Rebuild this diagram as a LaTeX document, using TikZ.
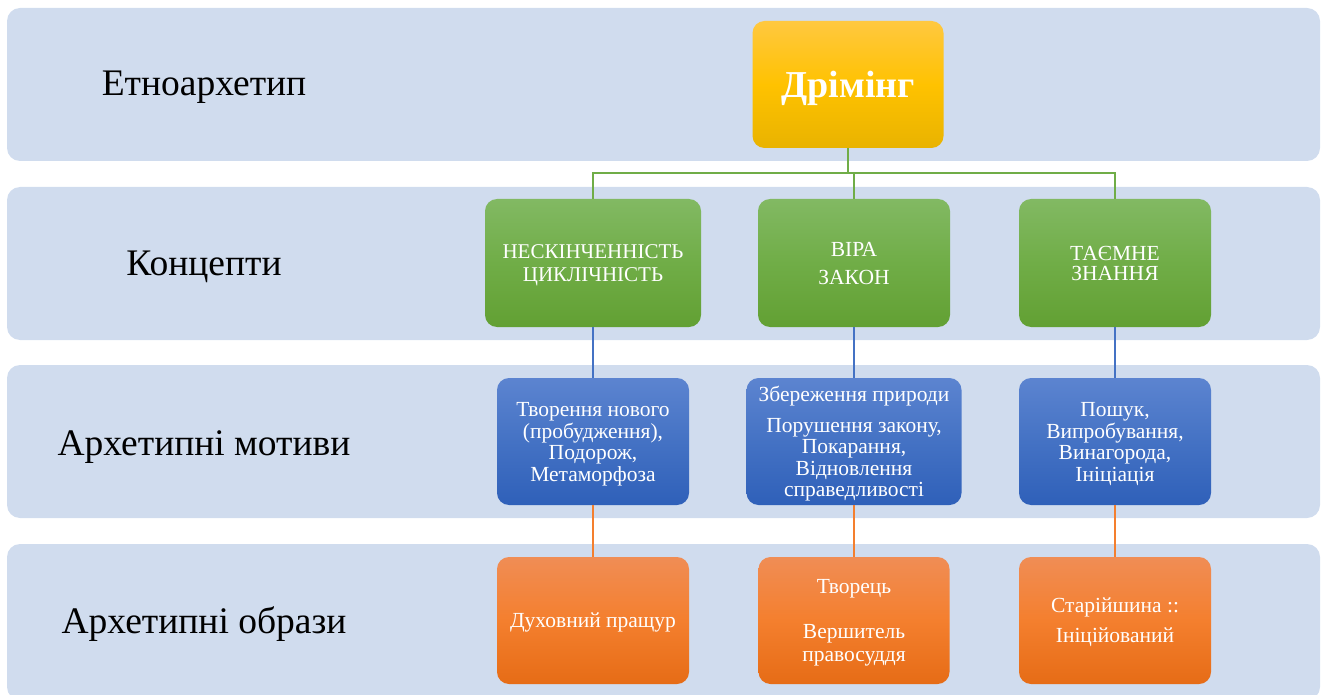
\documentclass[tikz,border=0pt]{standalone}
\usepackage{fontspec}
\setmainfont{LiberationSerif-Regular.ttf}[BoldFont=LiberationSerif-Bold.ttf]
\newcommand\topstr{\rule{0pt}{0.891em}}
\newcommand\botstr{\rule[-0.216em]{0pt}{0.216em}}
\setlength{\lineskiplimit}{-50pt}
\definecolor{bandc}{HTML}{D0DCEE}
\definecolor{goldT}{HTML}{FFC840}
\definecolor{goldM}{HTML}{FFC200}
\definecolor{goldB}{HTML}{E9B300}
\definecolor{grT}{HTML}{82B963}
\definecolor{grM}{HTML}{70AD47}
\definecolor{grB}{HTML}{62A033}
\definecolor{blT}{HTML}{5C84D0}
\definecolor{blM}{HTML}{4472C4}
\definecolor{blB}{HTML}{2F60B9}
\definecolor{orT}{HTML}{F08D55}
\definecolor{orM}{HTML}{F47F2E}
\definecolor{orB}{HTML}{E66C16}
\begin{document}
\begin{tikzpicture}[x=1pt,y=-1pt,
  bandbox/.style={fill=bandc, rounded corners=13pt, draw=none},
  lbl/.style={font=\fontsize{37.5}{40}\selectfont, text=black, inner sep=0pt, anchor=base},
  boxbase/.style={rectangle, rounded corners=12pt, draw=none, text=white, align=center, inner sep=0pt,
     font=\fontsize{21.5}{21.5}\selectfont},
  goldbox/.style={boxbase, top color=goldT, bottom color=goldB, middle color=goldM,
     font=\fontsize{38}{44}\selectfont\bfseries},
  greenbox/.style={boxbase, top color=grT, bottom color=grB, middle color=grM},
  bluebox/.style={boxbase, top color=blT, bottom color=blB, middle color=blM},
  orangebox/.style={boxbase, top color=orT, bottom color=orB, middle color=orM},
  gline/.style={draw=grM, line width=1.3pt},
  bline/.style={draw=blM, line width=1.3pt},
  oline/.style={draw=orM, line width=1.3pt}]
\useasboundingbox (0,0) rectangle (1328,695);
% bands
\path[bandbox] (7,8) rectangle (1320,161);
\path[bandbox] (7,187) rectangle (1320,340);
\path[bandbox] (7,365) rectangle (1320,518);
\path[bandbox] (7,544) rectangle (1320,700);
% labels
\node[lbl] (l1) at (204,96) {Етноархетип};
\node[lbl] (l2) at (204,275) {Концепти};
\node[lbl] (l3) at (204,455) {Архетипні мотиви};
\node[lbl] (l4) at (204,633) {Архетипні образи};
% nodes
\node[goldbox, minimum width=191, minimum height=127] (d) at (848,84.5) {\topstr Дрімінг\botstr};
\node[greenbox, minimum width=216, minimum height=128, font=\fontsize{21}{21.5}\selectfont] (g1) at (593,263) {\topstr НЕСКІНЧЕННІСТЬ\\[1.5pt]ЦИКЛІЧНІСТЬ\botstr};
\node[greenbox, minimum width=192, minimum height=128] (g2) at (854,263) {\topstr ВІРА\\[6.5pt]ЗАКОН\botstr};
\node[greenbox, minimum width=192, minimum height=128] (g3) at (1115,263) {\topstr ТАЄМНЕ\\[-1.5pt]ЗНАННЯ\botstr};
\node[bluebox, minimum width=192, minimum height=127] (b1) at (593,441.5) {\topstr Творення нового\\(пробудження),\\Подорож,\\Метаморфоза\botstr};
\node[bluebox, minimum width=215, minimum height=127] (b2) at (854,441.5) {\topstr Збереження природи\\[9.5pt]Порушення закону,\\Покарання,\\Відновлення\\справедливості\botstr};
\node[bluebox, minimum width=192, minimum height=127] (b3) at (1115,441.5) {\topstr Пошук,\\Випробування,\\Винагорода,\\Ініціація\botstr};
\node[orangebox, minimum width=192, minimum height=127] (o1) at (593,620.5) {\topstr Духовний пращур\botstr};
\node[orangebox, minimum width=191, minimum height=127] (o2) at (854,620.5) {\topstr Творець\\[23.5pt]Вершитель\\[1.5pt]правосуддя\botstr};
\node[orangebox, minimum width=192, minimum height=127] (o3) at (1115,620.5) {\topstr Старійшина ::\\[8.5pt]Ініційований\botstr};
% connectors
\coordinate (hl) at (593,173);
\coordinate (hr) at (1115,173);
\draw[gline] (d.south) -- (d.south |- hl);
\draw[gline] (g1.north) -- (hl) -- (hr) -- (g3.north);
\draw[gline] (g2.north) -- (g2.north |- hl);
\draw[bline] (g1.south) -- (b1.north);
\draw[bline] (g2.south) -- (b2.north);
\draw[bline] (g3.south) -- (b3.north);
\draw[oline] (b1.south) -- (o1.north);
\draw[oline] (b2.south) -- (o2.north);
\draw[oline] (b3.south) -- (o3.north);
\end{tikzpicture}
\end{document}
